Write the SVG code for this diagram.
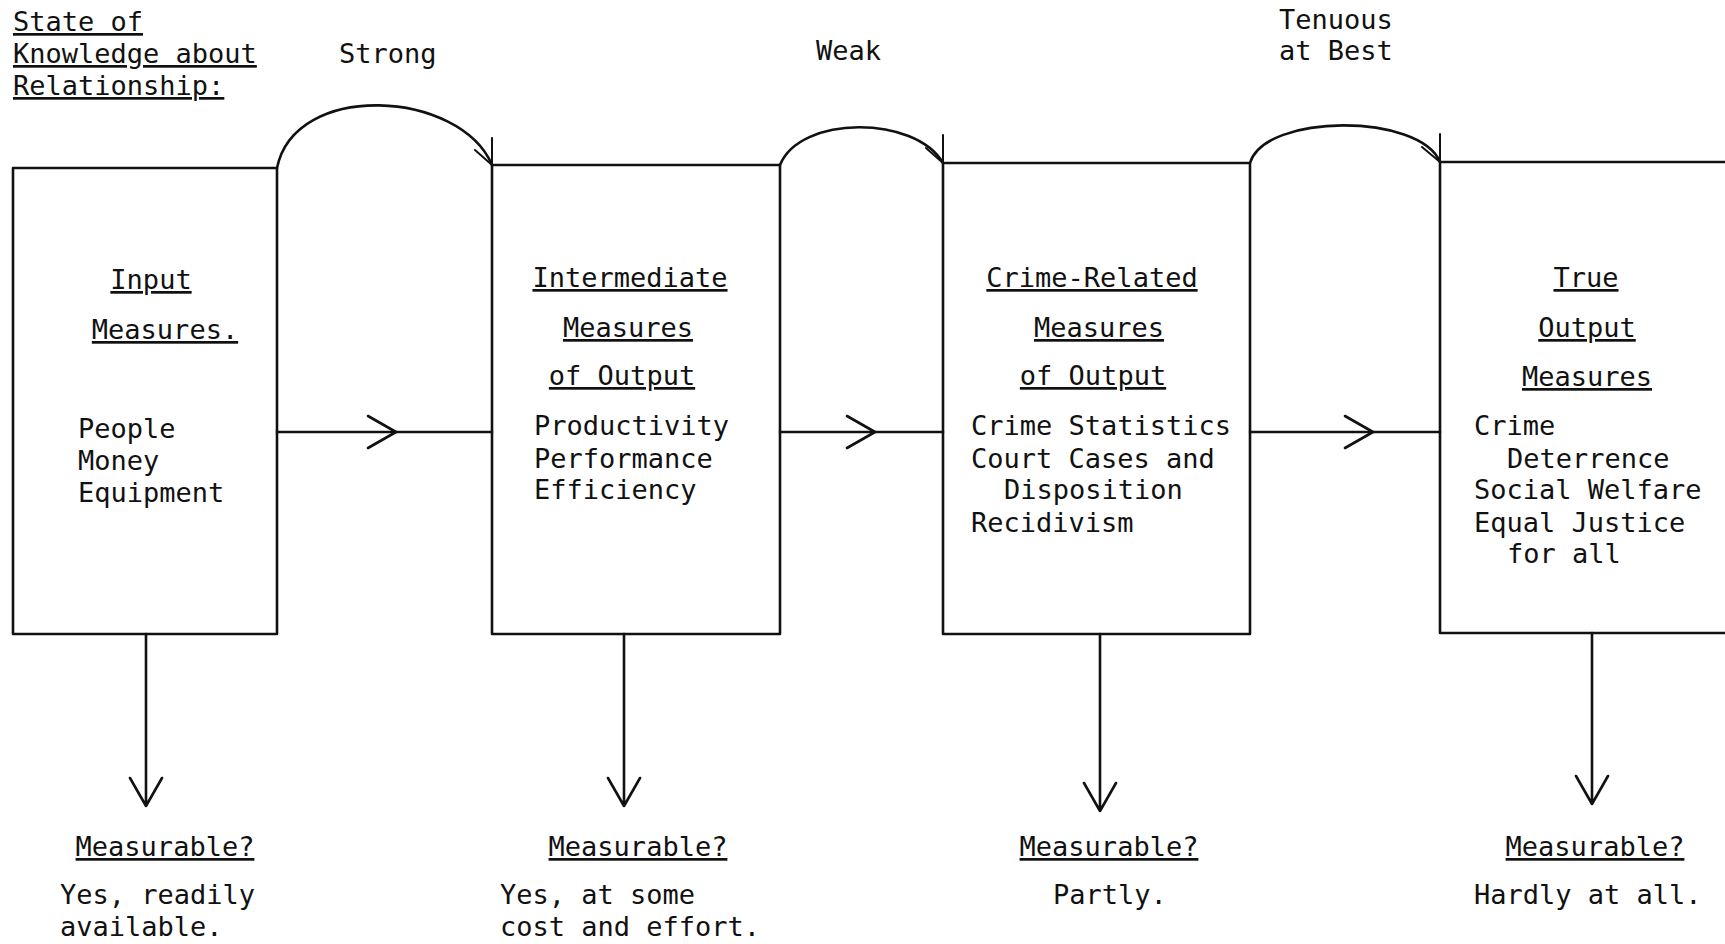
<svg xmlns="http://www.w3.org/2000/svg" width="1725" height="944" viewBox="0 0 1725 944">
<style>
text{font-family:"DejaVu Sans Mono","Liberation Mono",monospace;font-size:27px;fill:#111}
.u{text-decoration:underline}
.c{text-anchor:middle}
.ln{fill:none;stroke:#111;stroke-width:2.6;stroke-linecap:round;stroke-linejoin:round}
.thin{fill:none;stroke:#111;stroke-width:2;stroke-linecap:round}
</style>
<rect width="1725" height="944" fill="#fff"/>
<g id="header">
<text x="13" y="31" class="u">State of</text>
<text x="13" y="63" class="u">Knowledge about</text>
<text x="13" y="95" class="u">Relationship:</text>
<text x="339" y="63">Strong</text>
<text x="816" y="60">Weak</text>
<text x="1279" y="29">Tenuous</text>
<text x="1279" y="60">at Best</text>
</g>
<g id="node-input">
<path class="ln" d="M13,168 H277 V634 H13 Z"/>
<text x="151" y="289" class="c u">Input</text>
<text x="165" y="339" class="c u">Measures.</text>
<text x="78" y="438">People</text>
<text x="78" y="470">Money</text>
<text x="78" y="502">Equipment</text>
</g>
<g id="node-intermediate">
<path class="ln" d="M492,165 H780 V634 H492 Z"/>
<text x="630" y="287" class="c u">Intermediate</text>
<text x="628" y="337" class="c u">Measures</text>
<text x="622" y="385" class="c u">of Output</text>
<text x="534" y="435">Productivity</text>
<text x="534" y="468">Performance</text>
<text x="534" y="499">Efficiency</text>
</g>
<g id="node-crime">
<path class="ln" d="M943,163 H1250 V634 H943 Z"/>
<text x="1092" y="287" class="c u">Crime-Related</text>
<text x="1099" y="337" class="c u">Measures</text>
<text x="1093" y="385" class="c u">of Output</text>
<text x="971" y="435">Crime Statistics</text>
<text x="971" y="468">Court Cases and</text>
<text x="1004" y="499">Disposition</text>
<text x="971" y="532">Recidivism</text>
</g>
<g id="node-true">
<path class="ln" d="M1725,162 H1440 V633 H1725"/>
<text x="1586" y="287" class="c u">True</text>
<text x="1587" y="337" class="c u">Output</text>
<text x="1587" y="386" class="c u">Measures</text>
<text x="1474" y="435">Crime</text>
<text x="1507" y="468">Deterrence</text>
<text x="1474" y="499">Social Welfare</text>
<text x="1474" y="532">Equal Justice</text>
<text x="1507" y="563">for all</text>
</g>
<g id="bottom-labels">
<text x="165" y="856" class="c u">Measurable?</text>
<text x="60" y="904">Yes, readily</text>
<text x="60" y="936">available.</text>
<text x="638" y="856" class="c u">Measurable?</text>
<text x="500" y="904">Yes, at some</text>
<text x="500" y="936">cost and effort.</text>
<text x="1109" y="856" class="c u">Measurable?</text>
<text x="1053" y="904">Partly.</text>
<text x="1595" y="856" class="c u">Measurable?</text>
<text x="1474" y="904">Hardly at all.</text>
</g>
<g id="connectors">
<path class="ln" d="M277,168 C295,80 460,90 492,165"/>
<path class="thin" d="M492,138 V165 M475,150 L492,165"/>
<path class="ln" d="M780,165 C800,115 915,115 943,163"/>
<path class="thin" d="M943,135 V163 M926,148 L943,163"/>
<path class="ln" d="M1250,163 C1265,113 1420,113 1440,162"/>
<path class="thin" d="M1440,134 V162 M1422,147 L1440,162"/>
<path class="ln" d="M277,432 H492"/>
<path class="ln" d="M368,416 L396,432 L368,448"/>
<path class="ln" d="M780,432 H943"/>
<path class="ln" d="M847,416 L875,432 L847,448"/>
<path class="ln" d="M1250,432 H1440"/>
<path class="ln" d="M1345,416 L1373,432 L1345,448"/>
<path class="ln" d="M146,634 V806 M130,778 L146,806 L162,778"/>
<path class="ln" d="M624,634 V806 M608,778 L624,806 L640,778"/>
<path class="ln" d="M1100,634 V811 M1084,783 L1100,811 L1116,783"/>
<path class="ln" d="M1592,633 V804 M1576,776 L1592,804 L1608,776"/>
</g>
</svg>
